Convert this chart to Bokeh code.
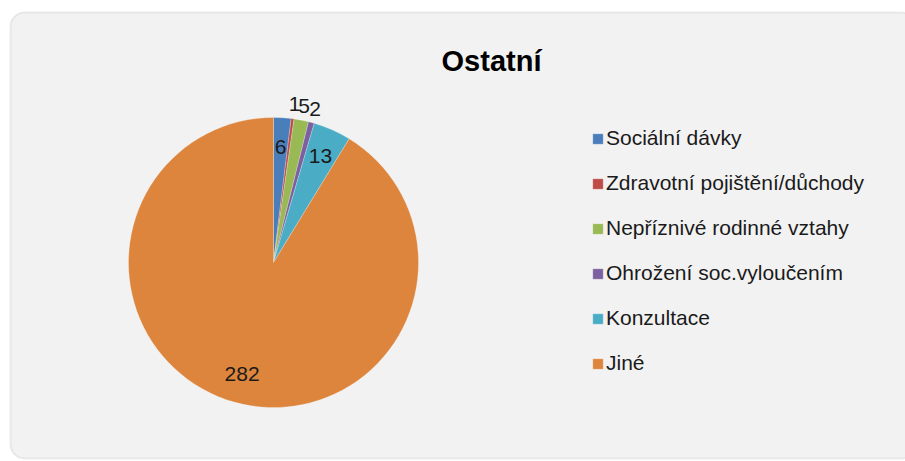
import math
from bokeh.plotting import figure
from bokeh.models import ColumnDataSource, Range1d, BoxAnnotation, Legend, LegendItem
from bokeh.core.properties import value
from bokeh.embed import file_html
from bokeh.resources import INLINE

# ---- data ----
title = "Ostatní"
categories = ["Sociální dávky", "Zdravotní pojištění/důchody", "Nepříznivé rodinné vztahy",
              "Ohrožení soc.vyloučením", "Konzultace", "Jiné"]
values = [6, 1, 5, 2, 13, 282]
colors = ["#4A7EBB", "#BE4B48", "#98B954", "#7D60A0", "#4BACC6", "#DD853D"]

# ---- layout (pixel-like data units, y up) ----
W, H = 905, 461
FONT = "Liberation Sans"
cx, cy, R = 273, 199, 145

total = float(sum(values))
starts, ends, lx, ly, ltxt = [], [], [], [], []
acc = 0.0
for v in values:
    a0 = acc / total * 2 * math.pi
    a1 = (acc + v) / total * 2 * math.pi
    starts.append(math.pi / 2 - a0)
    ends.append(math.pi / 2 - a1)
    mid = (a0 + a1) / 2
    rr = R * 1.1 if v / total < 0.018 else R * 0.8
    lx.append(cx + rr * math.sin(mid))
    ly.append(cy + rr * math.cos(mid))
    ltxt.append(str(v))
    acc += v

src = ColumnDataSource(dict(cat=categories, val=values, color=colors,
                            start=starts, end=ends))
lab = ColumnDataSource(dict(x=lx, y=ly, t=ltxt))

p = figure(width=W, height=H, output_backend="svg", toolbar_location=None,
           x_range=Range1d(0, W), y_range=Range1d(0, H),
           min_border=0, min_border_left=0, min_border_right=0,
           min_border_top=0, min_border_bottom=0,
           x_axis_type=None, y_axis_type=None)
p.grid.visible = False
p.outline_line_color = None
p.background_fill_color = "white"
p.border_fill_color = "white"

box = BoxAnnotation(left=10, right=915, top=449, bottom=3,
                    fill_color="#f2f2f2", fill_alpha=1.0,
                    line_color="#c4c4c4", line_width=2,
                    border_radius=14, level="underlay")
p.add_layout(box)

r = p.wedge(x=cx, y=cy, radius=R, start_angle="start", end_angle="end",
            direction="clock", fill_color="color", line_color="white",
            line_width=0.4, line_alpha=0.6, source=src)

p.text(x="x", y="y", text="t", source=lab, text_align="center",
       text_baseline="middle", text_font=value(FONT),
       text_font_size="21px", text_color="#1a1a1a")

p.text(x=[491], y=[401], text=[title], text_align="center",
       text_baseline="middle", text_font=value(FONT),
       text_font_size="29px", text_font_style="bold", text_color="#000000")

items = [LegendItem(label=c, renderers=[r], index=i) for i, c in enumerate(categories)]
legend = Legend(items=items, location=(591, 85), orientation="vertical",
                padding=0, margin=0, spacing=19, label_height=26,
                glyph_width=13, glyph_height=13, label_standoff=2,
                label_text_font=FONT, label_text_font_size="21px",
                label_text_color="#1a1a1a",
                border_line_color=None, background_fill_alpha=0)
p.add_layout(legend, "center")

open("out.html", "w").write(file_html(p, INLINE))
